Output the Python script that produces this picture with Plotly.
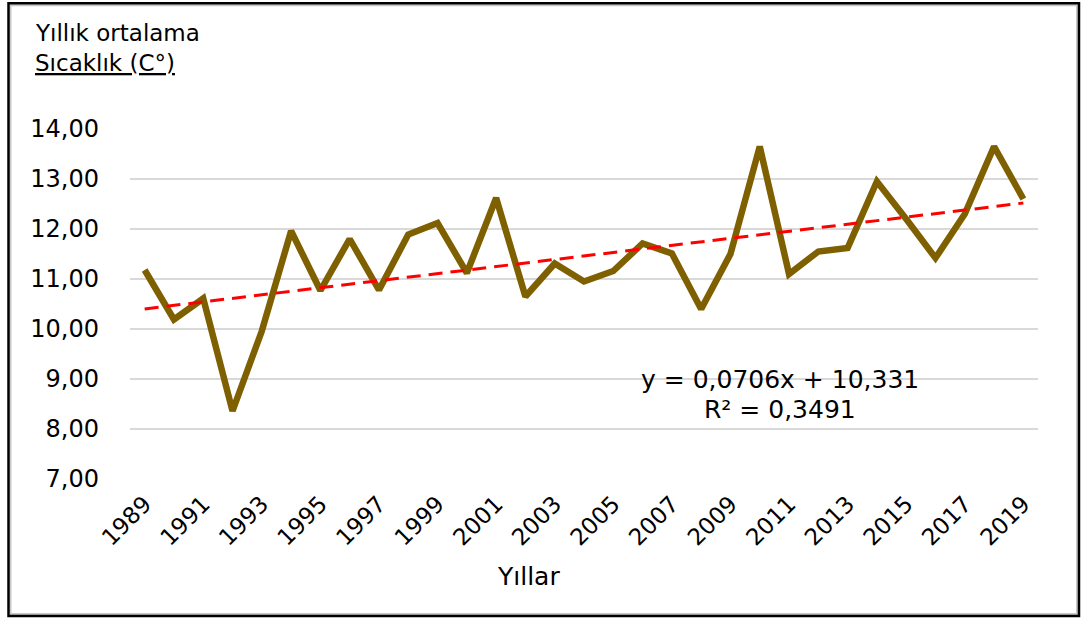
import plotly.graph_objects as go

years = [str(y) for y in range(1989, 2020)]
temps = [11.18, 10.19, 10.61, 8.36, 9.96, 11.96, 10.77, 11.80, 10.78, 11.89,
         12.12, 11.12, 12.62, 10.65, 11.31, 10.95, 11.16, 11.71, 11.51, 10.40,
         11.50, 13.65, 11.10, 11.55, 11.62, 12.95, 12.20, 11.42, 12.30, 13.65,
         12.60]
slope = 0.0706
intercept = 10.331
r2_text = "R² = 0,3491"
eq_text = "y = 0,0706x + 10,331"
shown_ticks = years[::2]
y_ticks = [7, 8, 9, 10, 11, 12, 13, 14]

trend = [slope * (i + 1) + intercept for i in range(len(years))]

W, H = 1084, 621
L, R, T, B = 130, 1038, 129.3, 479.5
pw, ph = R - L, B - T

def px(x):
    return (x - L) / pw

def py(y):
    return (B - y) / ph

FONT = "DejaVu Sans"

fig = go.Figure()
fig.add_trace(go.Scatter(x=years, y=temps, mode="lines",
                         line=dict(color="#7F6000", width=6.5),
                         showlegend=False, hoverinfo="skip"))
fig.add_trace(go.Scatter(x=years, y=trend, mode="lines",
                         line=dict(color="#FF0000", width=3, dash="14px,8px"),
                         showlegend=False, hoverinfo="skip"))

fig.update_layout(
    width=W, height=H,
    margin=dict(l=L, r=W - R, t=T, b=H - B),
    paper_bgcolor="white", plot_bgcolor="white",
    separators=",.",
    font=dict(family=FONT, color="#000000", size=24),
    xaxis=dict(type="category", tickmode="array", tickvals=shown_ticks,
               ticktext=shown_ticks, tickangle=-45, showgrid=False,
               zeroline=False, showline=False, ticks="",
               ticklabelstandoff=6,
               tickfont=dict(family=FONT, size=23, color="#000000"),
               range=[-0.5, len(years) - 0.5]),
    yaxis=dict(range=[7, 14], tickvals=y_ticks, tickformat=".2f",
               showgrid=True, gridcolor="#D9D9D9", gridwidth=2,
               zeroline=False, showline=False, ticks="",
               ticklabelstandoff=30,
               tickfont=dict(family=FONT, size=24, color="#000000")),
    annotations=[
        dict(text="Yıllık ortalama", xref="paper", yref="paper",
             x=px(33), y=py(33), xanchor="left", yanchor="middle",
             showarrow=False, font=dict(family=FONT, size=23)),
        dict(text="<u>Sıcaklık (C°)</u>", xref="paper", yref="paper",
             x=px(33), y=py(63), xanchor="left", yanchor="middle",
             showarrow=False, font=dict(family=FONT, size=23)),
        dict(text="Yıllar", xref="paper", yref="paper",
             x=px(528), y=py(577), xanchor="center", yanchor="middle",
             showarrow=False, font=dict(family=FONT, size=25)),
        dict(text=eq_text, xref="paper", yref="paper",
             x=px(780), y=py(380), xanchor="center", yanchor="middle",
             showarrow=False, font=dict(family=FONT, size=25)),
        dict(text=r2_text, xref="paper", yref="paper",
             x=px(780), y=py(410), xanchor="center", yanchor="middle",
             showarrow=False, font=dict(family=FONT, size=25)),
    ],
    shapes=[
        dict(type="rect", xref="paper", yref="paper",
             x0=px(10.5), x1=px(1077), y0=py(614.5), y1=py(5.5),
             line=dict(color="#C8C8C8", width=2), layer="below"),
        dict(type="rect", xref="paper", yref="paper",
             x0=px(8.5), x1=px(1079), y0=py(616.5), y1=py(3.5),
             line=dict(color="#000000", width=2.5), layer="below"),
    ],
)

fig.write_html("out.html",
               config={"displayModeBar": False},
               post_script="document.body.style.margin='0';document.body.style.overflow='hidden';")
